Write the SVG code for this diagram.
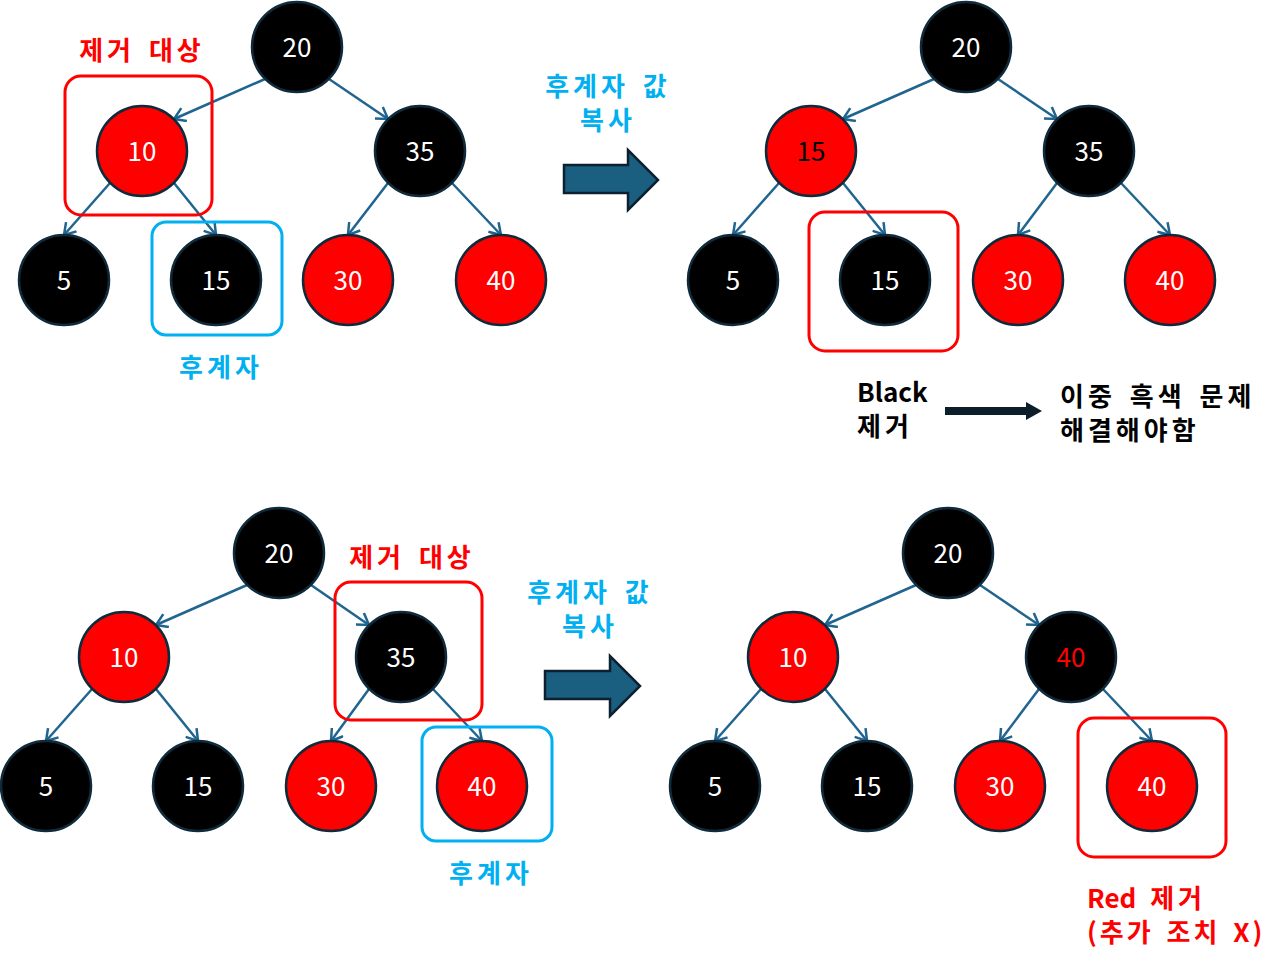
<svg xmlns="http://www.w3.org/2000/svg" width="1282" height="968" viewBox="0 0 1282 968">
<style>
.n{stroke:#0f2a3a;stroke-width:2.5}
.b{fill:#000}
.r{fill:#ff0000}
.t{font-family:"Noto Sans CJK KR","Noto Sans",sans-serif;font-size:26px;fill:#fff;text-anchor:middle;dominant-baseline:central}
.e{stroke:#1f6590;stroke-width:2.5;fill:none;marker-end:url(#ah)}
.rb{fill:none;stroke:#ff0000;stroke-width:3}
.bb{fill:none;stroke:#00b0f0;stroke-width:3}
.lr{font-family:"Noto Sans CJK KR","Noto Sans",sans-serif;font-size:26px;font-weight:bold;fill:#ff0000}
.lb{font-family:"Noto Sans CJK KR","Noto Sans",sans-serif;font-size:26px;font-weight:bold;fill:#00b0f0}
.lk{font-family:"Noto Sans CJK KR","Noto Sans",sans-serif;font-size:26px;font-weight:bold;fill:#000}
.k{letter-spacing:4px;word-spacing:4px}
.ba{fill:#1a5f80;stroke:#0d2030;stroke-width:2.5}
</style>
<defs>
<marker id="ah" markerUnits="userSpaceOnUse" markerWidth="16" markerHeight="16" refX="13" refY="8" orient="auto">
<path d="M2,1 L13,8 L2,15" fill="none" stroke="#1f6590" stroke-width="2.5"/>
</marker>
</defs>
<rect width="1282" height="968" fill="#fff"/>
<g id="connectors">
<line class="e" x1="265" y1="79" x2="174" y2="119"/>
<line class="e" x1="329" y1="79" x2="388" y2="119"/>
<line class="e" x1="110" y1="183" x2="64" y2="235"/>
<line class="e" x1="174" y1="183" x2="216" y2="235"/>
<line class="e" x1="388" y1="183" x2="348" y2="235"/>
<line class="e" x1="452" y1="183" x2="501" y2="235"/>
<line class="e" x1="934" y1="79" x2="843" y2="119"/>
<line class="e" x1="998" y1="79" x2="1057" y2="119"/>
<line class="e" x1="779" y1="183" x2="733" y2="235"/>
<line class="e" x1="843" y1="183" x2="885" y2="235"/>
<line class="e" x1="1057" y1="183" x2="1018" y2="235"/>
<line class="e" x1="1121" y1="183" x2="1170" y2="235"/>
<line class="e" x1="247" y1="585" x2="156" y2="625"/>
<line class="e" x1="311" y1="585" x2="369" y2="625"/>
<line class="e" x1="92" y1="689" x2="46" y2="741"/>
<line class="e" x1="156" y1="689" x2="198" y2="741"/>
<line class="e" x1="369" y1="689" x2="331" y2="741"/>
<line class="e" x1="433" y1="689" x2="482" y2="741"/>
<line class="e" x1="916" y1="585" x2="825" y2="625"/>
<line class="e" x1="980" y1="585" x2="1039" y2="625"/>
<line class="e" x1="761" y1="689" x2="715" y2="741"/>
<line class="e" x1="825" y1="689" x2="867" y2="741"/>
<line class="e" x1="1039" y1="689" x2="1000" y2="741"/>
<line class="e" x1="1103" y1="689" x2="1152" y2="741"/>
</g>
<g id="tl20"><circle class="n b" cx="297" cy="47" r="45"/><text class="t" x="297" y="45">20</text></g>
<g id="tl10"><circle class="n r" cx="142" cy="151" r="45"/><text class="t" x="142" y="149">10</text></g>
<g id="tl35"><circle class="n b" cx="420" cy="151" r="45"/><text class="t" x="420" y="149">35</text></g>
<g id="tl5"><circle class="n b" cx="64" cy="280" r="45"/><text class="t" x="64" y="278">5</text></g>
<g id="tl15"><circle class="n b" cx="216" cy="280" r="45"/><text class="t" x="216" y="278">15</text></g>
<g id="tl30"><circle class="n r" cx="348" cy="280" r="45"/><text class="t" x="348" y="278">30</text></g>
<g id="tl40"><circle class="n r" cx="501" cy="280" r="45"/><text class="t" x="501" y="278">40</text></g>
<g id="tl-target"><rect class="rb" x="65" y="76" width="147" height="139" rx="16"/><text class="lr k" x="142" y="60" text-anchor="middle">제거 대상</text></g>
<g id="tl-succ"><rect class="bb" x="152" y="222" width="130" height="113" rx="14"/><text class="lb k" x="221" y="377" text-anchor="middle">후계자</text></g>
<g id="arrow1"><polygon class="ba" points="564,165 628,165 628,150 658,180 628,210 628,193 564,193"/><text class="lb k" x="608" y="96" text-anchor="middle">후계자 값</text><text class="lb k" x="608" y="130" text-anchor="middle">복사</text></g>
<g id="tr20"><circle class="n b" cx="966" cy="47" r="45"/><text class="t" x="966" y="45">20</text></g>
<g id="tr15a"><circle class="n r" cx="811" cy="151" r="45"/><text class="t" x="811" y="149" style="fill:#000">15</text></g>
<g id="tr35"><circle class="n b" cx="1089" cy="151" r="45"/><text class="t" x="1089" y="149">35</text></g>
<g id="tr5"><circle class="n b" cx="733" cy="280" r="45"/><text class="t" x="733" y="278">5</text></g>
<g id="tr15"><circle class="n b" cx="885" cy="280" r="45"/><text class="t" x="885" y="278">15</text></g>
<g id="tr30"><circle class="n r" cx="1018" cy="280" r="45"/><text class="t" x="1018" y="278">30</text></g>
<g id="tr40"><circle class="n r" cx="1170" cy="280" r="45"/><text class="t" x="1170" y="278">40</text></g>
<g id="tr-box"><rect class="rb" x="809" y="212" width="149" height="139" rx="16"/></g>
<g id="black-note"><text class="lk" x="857" y="402">Black</text><text class="lk k" x="857" y="436">제거</text>
<polygon points="945,407 1026,407 1026,402 1042,411 1026,420 1026,415 945,415" fill="#0d1e2b"/>
<text class="lk k" x="1060" y="406">이중 흑색 문제</text><text class="lk k" x="1060" y="440">해결해야함</text></g>
<g id="bl20"><circle class="n b" cx="279" cy="553" r="45"/><text class="t" x="279" y="551">20</text></g>
<g id="bl10"><circle class="n r" cx="124" cy="657" r="45"/><text class="t" x="124" y="655">10</text></g>
<g id="bl35"><circle class="n b" cx="401" cy="657" r="45"/><text class="t" x="401" y="655">35</text></g>
<g id="bl5"><circle class="n b" cx="46" cy="786" r="45"/><text class="t" x="46" y="784">5</text></g>
<g id="bl15"><circle class="n b" cx="198" cy="786" r="45"/><text class="t" x="198" y="784">15</text></g>
<g id="bl30"><circle class="n r" cx="331" cy="786" r="45"/><text class="t" x="331" y="784">30</text></g>
<g id="bl40"><circle class="n r" cx="482" cy="786" r="45"/><text class="t" x="482" y="784">40</text></g>
<g id="bl-target"><rect class="rb" x="335" y="582" width="147" height="138" rx="16"/><text class="lr k" x="412" y="567" text-anchor="middle">제거 대상</text></g>
<g id="bl-succ"><rect class="bb" x="422" y="727" width="130" height="114" rx="14"/><text class="lb k" x="491" y="883" text-anchor="middle">후계자</text></g>
<g id="arrow2"><polygon class="ba" points="545,671 610,671 610,656 640,686 610,716 610,699 545,699"/><text class="lb k" x="590" y="602" text-anchor="middle">후계자 값</text><text class="lb k" x="590" y="636" text-anchor="middle">복사</text></g>
<g id="br20"><circle class="n b" cx="948" cy="553" r="45"/><text class="t" x="948" y="551">20</text></g>
<g id="br10"><circle class="n r" cx="793" cy="657" r="45"/><text class="t" x="793" y="655">10</text></g>
<g id="br40a"><circle class="n b" cx="1071" cy="657" r="45"/><text class="t" x="1071" y="655" style="fill:#ff0000">40</text></g>
<g id="br5"><circle class="n b" cx="715" cy="786" r="45"/><text class="t" x="715" y="784">5</text></g>
<g id="br15"><circle class="n b" cx="867" cy="786" r="45"/><text class="t" x="867" y="784">15</text></g>
<g id="br30"><circle class="n r" cx="1000" cy="786" r="45"/><text class="t" x="1000" y="784">30</text></g>
<g id="br40"><circle class="n r" cx="1152" cy="786" r="45"/><text class="t" x="1152" y="784">40</text></g>
<g id="br-box"><rect class="rb" x="1078" y="718" width="148" height="139" rx="16"/><text class="lr" x="1087" y="908" style="word-spacing:8px">Red <tspan class="k">제거</tspan></text><text class="lr" x="1087" y="942" style="letter-spacing:3px;word-spacing:4px">(추가 조치 X)</text></g>
</svg>
